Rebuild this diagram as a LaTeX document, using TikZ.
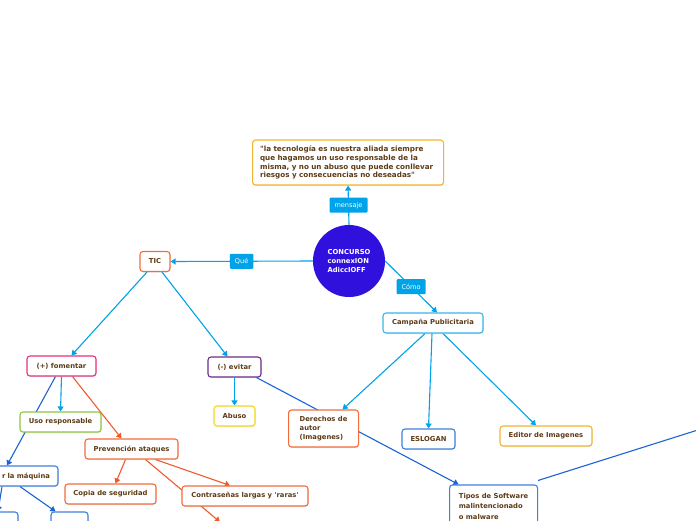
\documentclass[tikz,border=0pt]{standalone}
\usepackage{fontspec}
\setmainfont{DejaVu Sans}
\usetikzlibrary{arrows.meta,shadows,backgrounds}
\definecolor{cyanl}{HTML}{00A2E8}
\definecolor{orl}{HTML}{F05A28}
\definecolor{bll}{HTML}{1A62D8}
\definecolor{txt}{HTML}{5D3B16}
\definecolor{circ}{HTML}{2F10DD}
\definecolor{bgold}{HTML}{F3B52E}
\definecolor{bor}{HTML}{F26C3C}
\definecolor{bcy}{HTML}{3AB4EA}
\definecolor{bpink}{HTML}{E6317D}
\definecolor{bpur}{HTML}{6B2D8C}
\definecolor{bgreen}{HTML}{8CC63F}
\definecolor{byel}{HTML}{F0D81E}
\definecolor{bblue}{HTML}{3F7FDB}
\tikzset{
  box/.style={draw, fill=white, rounded corners=3pt, line width=1.1pt, text=txt,
    font=\fontsize{6.8}{9}\selectfont\bfseries, minimum height=20pt, inner xsep=4pt, inner ysep=3pt,
    drop shadow={shadow xshift=0.6pt, shadow yshift=-1pt, opacity=0.18}},
  lab/.style={fill=cyanl, text=white, rounded corners=1pt, font=\fontsize{6.6}{7}\selectfont,
    minimum height=15pt, inner xsep=5pt, inner ysep=1pt},
  cyc/.style={draw=cyanl, line width=1.1pt, -{Triangle[length=5pt,width=6pt]}},
  orc/.style={draw=orl, line width=1.1pt, -{Triangle[length=5pt,width=6pt]}},
  blc/.style={draw=bll, line width=1.1pt, -{Triangle[length=5pt,width=6pt]}},
}
\begin{document}
\begin{tikzpicture}[x=1pt,y=-1pt]
\useasboundingbox (0,0) rectangle (696,520);
\clip (0,0) rectangle (696,520);

\node[circle, fill=circ, minimum size=72pt, text=white, align=left,
  font=\fontsize{6.8}{9}\selectfont\bfseries] (c) at (349,261) {CONCURSO\\connexION\\AdiccIOFF};

\node[box, draw=bgold, minimum width=191pt, minimum height=45pt, text width=176pt, align=left, inner xsep=7.5pt,
  font=\fontsize{7.2}{8.8}\selectfont\bfseries, anchor=west]
  (q) at (252,162.5) {\textquotedbl la tecnología es nuestra aliada siempre\\que hagamos un uso responsable de la\\misma, y no un abuso que puede conllevar\\riesgos y consecuencias no deseadas\textquotedbl};

\node[box, draw=bor, minimum width=30pt] (tic) at (155,261.5) {TIC};
\node[box, draw=bcy, minimum width=100pt] (camp) at (433,323) {Campaña Publicitaria};
\node[box, draw=bpink, minimum width=69pt] (fom) at (61.5,366) {(+) fomentar};
\node[box, draw=bpur, minimum width=53pt] (evi) at (234.5,367) {(-) evitar};
\node[box, draw=bgreen, minimum width=81pt] (uso) at (60.5,422) {Uso responsable};
\node[box, draw=byel, minimum width=41pt] (abu) at (234.5,416) {Abuso};
\node[box, draw=bor, minimum width=70pt, minimum height=37pt, align=left, inner xsep=8pt, anchor=west]
  (der) at (288,428.5) {Derechos de\\autor\\(Imagenes)};
\node[box, draw=bblue, minimum width=53pt] (esl) at (428.5,439) {ESLOGAN};
\node[box, draw=bgold, minimum width=92pt] (edi) at (546,436) {Editor de Imagenes};
\node[box, draw=bor, minimum width=93pt] (prev) at (131.5,449) {Prevención ataques};
\node[box, draw=bblue, minimum width=88pt, text width=72pt, align=right] (maq) at (14,476) {r la máquina};
\node[box, draw=bor, minimum width=91pt] (cop) at (110.5,494) {Copia de seguridad};
\node[box, draw=bor, minimum width=126pt] (con) at (245,496) {Contraseñas largas y \textquotesingle raras\textquotesingle};
\node[box, draw=bblue, minimum width=88pt, minimum height=42pt, align=left, inner xsep=8pt, anchor=west,
  font=\fontsize{6.8}{10.5}\selectfont\bfseries]
  (tip) at (449,506) {Tipos de Software\\malintencionado\\o malware};
\node[box, draw=bblue, minimum width=37pt] (pas) at (69.5,522) {};
\node[box, draw=bblue, minimum width=56pt] (lbx) at (-10,522) {};

\coordinate (pbot) at (220,522);
\coordinate (rt) at (720,423);
\coordinate (bl) at (400,530);
\coordinate (br) at (580,528);

\begin{pgfonlayer}{background}
\draw[cyc] (c.north) -- node[lab]{mensaje} (q.south);
\draw[cyc] (c.west) -- node[lab]{Qué} (tic.east);
\draw[cyc] (c.east) -- node[lab, pos=0.5]{Cómo} ([xshift=4pt]camp.north);
\draw[cyc] ([xshift=-8pt]tic.south) -- ([xshift=10pt]fom.north);
\draw[cyc] ([xshift=7pt]tic.south) -- ([xshift=-7pt]evi.north);
\draw[cyc] (fom.south) -- (uso.north);
\draw[orc] ([xshift=11pt]fom.south) -- ([xshift=-10pt]prev.north);
\draw[blc] ([xshift=-6pt]fom.south) -- ([xshift=-7pt]maq.north);
\draw[cyc] (evi.south) -- (abu.north);
\draw[blc] ([xshift=22pt]evi.south) -- ([xshift=-35pt]tip.north);
\draw[cyc] ([xshift=-8pt]camp.south) -- ([xshift=19pt]der.north);
\draw[cyc] ([xshift=-1pt]camp.south) -- (esl.north);
\draw[cyc] ([xshift=10pt]camp.south) -- ([xshift=-10pt]edi.north);
\draw[orc] ([xshift=-6pt]prev.south) -- ([xshift=5pt]cop.north);
\draw[orc] ([xshift=24pt]prev.south) -- ([xshift=-15pt]con.north);
\draw[orc] ([xshift=14pt]prev.south) -- (pbot);
\draw[blc] ([xshift=6pt]maq.south) -- ([xshift=-14pt]pas.north);
\draw[blc] ([xshift=-12pt]maq.south) -- ([xshift=8pt]lbx.north);
\draw[bll, line width=1.1pt] ([yshift=4pt]tip.north east) -- (rt);
\draw[bll, line width=1.1pt] ([yshift=-9pt]tip.south west) -- (bl);
\draw[bll, line width=1.1pt] ([yshift=-9pt]tip.south east) -- (br);
\end{pgfonlayer}
\end{tikzpicture}
\end{document}
